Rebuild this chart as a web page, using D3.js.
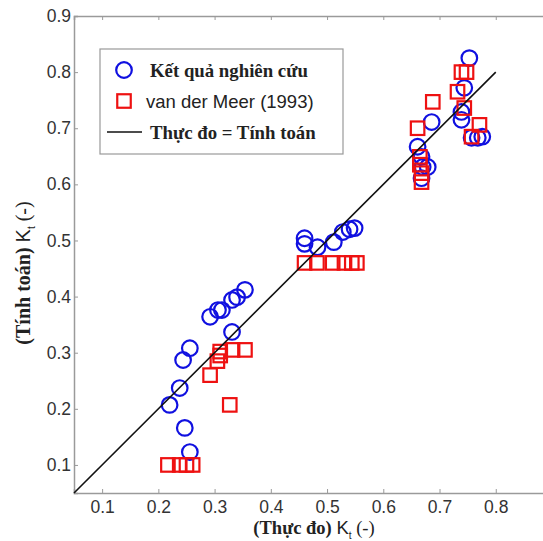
<!DOCTYPE html>
<html>
<head>
<meta charset="utf-8">
<script src="https://cdn.jsdelivr.net/npm/d3@7"></script>
<style>
  html, body { margin: 0; padding: 0; background: #fff; }
  svg { display: block; }
</style>
</head>
<body>
<svg id="chart" width="543" height="541"></svg>
<script>
// Measured vs. computed transmission coefficient Kt
const studyMeasured = [0.220, 0.238, 0.244, 0.256, 0.247, 0.256, 0.292, 0.306, 0.313, 0.331, 0.340, 0.354, 0.331,
  0.460, 0.460, 0.483, 0.512, 0.528, 0.540, 0.549,
  0.753, 0.744, 0.739, 0.739, 0.757, 0.768, 0.776, 0.686, 0.661, 0.668, 0.670, 0.679, 0.668];
const studyComputed = [0.207, 0.237, 0.287, 0.308, 0.166, 0.123, 0.364, 0.376, 0.376, 0.394, 0.399, 0.412, 0.337,
  0.504, 0.494, 0.488, 0.497, 0.515, 0.520, 0.522,
  0.825, 0.772, 0.729, 0.715, 0.683, 0.683, 0.685, 0.711, 0.667, 0.649, 0.631, 0.631, 0.611];

const vdmMeasured = [0.217, 0.238, 0.250, 0.261, 0.292, 0.305, 0.310, 0.310, 0.332, 0.354, 0.327,
  0.460, 0.482, 0.510, 0.531, 0.544, 0.553,
  0.748, 0.739, 0.688, 0.732, 0.661, 0.744, 0.771, 0.757, 0.665, 0.665, 0.668, 0.668];
const vdmComputed = [0.100, 0.100, 0.100, 0.100, 0.260, 0.285, 0.295, 0.302, 0.305, 0.305, 0.207,
  0.460, 0.460, 0.460, 0.460, 0.460, 0.460,
  0.800, 0.800, 0.747, 0.765, 0.700, 0.736, 0.706, 0.685, 0.649, 0.635, 0.620, 0.604];

const equalityLine = [0.05, 0.8];
const xTicks = [0.1, 0.2, 0.3, 0.4, 0.5, 0.6, 0.7, 0.8];
const yTicks = [0.1, 0.2, 0.3, 0.4, 0.5, 0.6, 0.7, 0.8, 0.9];
const legendLabels = ["Kết quả nghiên cứu", "van der Meer (1993)", "Thực đo = Tính toán"];

const svg = d3.select("#chart");
const plotLeft = 74, plotTop = 16, plotRight = 552, plotBottom = 493;

const x = d3.scaleLinear().domain([0.05, 0.9]).range([plotLeft, plotRight]);
const y = d3.scaleLinear().domain([0.05, 0.9]).range([plotBottom, plotTop]);

const axisColor = "#9a9a9a";
const labelColor = "#333";
const sans = "'Liberation Sans', Arial, sans-serif";
const serif = "'Liberation Serif', 'Times New Roman', serif";

// Axes (ticks pointing inward, mirrored on the top edge)
const gx = svg.append("g").attr("transform", `translate(0,${plotBottom})`)
  .call(d3.axisBottom(x).tickValues(xTicks).tickFormat(d3.format(".1f")).tickSize(-4).tickPadding(8));
const gxTop = svg.append("g").attr("transform", `translate(0,${plotTop})`)
  .call(d3.axisTop(x).tickValues(xTicks).tickFormat("").tickSize(-4));
const gy = svg.append("g").attr("transform", `translate(${plotLeft},0)`)
  .call(d3.axisLeft(y).tickValues(yTicks).tickFormat(d3.format(".1f")).tickSize(-4).tickPadding(3));

[gx, gxTop, gy].forEach(g => {
  g.select(".domain").attr("stroke", axisColor).attr("stroke-width", 1.5);
  g.selectAll(".tick line").attr("stroke", axisColor);
  g.selectAll(".tick text").attr("fill", labelColor)
    .style("font-family", sans).style("font-size", "17.5px");
});

// Study results (circles)
svg.append("g").selectAll("circle")
  .data(studyMeasured.map((m, i) => [m, studyComputed[i]]))
  .join("circle")
  .attr("cx", d => x(d[0])).attr("cy", d => y(d[1])).attr("r", 7.8)
  .attr("fill", "none").attr("stroke", "#1010e0").attr("stroke-width", 2.2);

// van der Meer (1993) (squares)
const sq = 13.5;
svg.append("g").selectAll("rect")
  .data(vdmMeasured.map((m, i) => [m, vdmComputed[i]]))
  .join("rect")
  .attr("x", d => x(d[0]) - sq / 2).attr("y", d => y(d[1]) - sq / 2)
  .attr("width", sq).attr("height", sq)
  .attr("fill", "none").attr("stroke", "#ee1111").attr("stroke-width", 2.2);

// 1:1 line
svg.append("line")
  .attr("x1", x(equalityLine[0])).attr("y1", y(equalityLine[0]))
  .attr("x2", x(equalityLine[1])).attr("y2", y(equalityLine[1]))
  .attr("stroke", "#111").attr("stroke-width", 1.6);

// Legend
const lg = svg.append("g");
lg.append("rect").attr("x", 100).attr("y", 49).attr("width", 243).attr("height", 105)
  .attr("fill", "#fff").attr("stroke", "#999").attr("stroke-width", 1.2);
lg.append("circle").attr("cx", 124).attr("cy", 70).attr("r", 7.8)
  .attr("fill", "none").attr("stroke", "#1010e0").attr("stroke-width", 2.2);
lg.append("rect").attr("x", 124 - sq / 2).attr("y", 101 - sq / 2).attr("width", sq).attr("height", sq)
  .attr("fill", "none").attr("stroke", "#ee1111").attr("stroke-width", 2.2);
lg.append("line").attr("x1", 107).attr("x2", 142).attr("y1", 132).attr("y2", 132)
  .attr("stroke", "#111").attr("stroke-width", 1.6);
lg.append("text").attr("x", 150).attr("y", 77).text(legendLabels[0])
  .style("font-family", serif).style("font-weight", "bold").style("font-size", "18.8px").attr("fill", "#222");
lg.append("text").attr("x", 146).attr("y", 108).text(legendLabels[1])
  .style("font-family", sans).style("font-size", "18.5px").attr("fill", "#222");
lg.append("text").attr("x", 150).attr("y", 139).text(legendLabels[2])
  .style("font-family", serif).style("font-weight", "bold").style("font-size", "18.8px").attr("fill", "#222");

// Axis titles
const xt = svg.append("text").attr("x", 314).attr("y", 534).attr("text-anchor", "middle")
  .attr("fill", "#222").style("font-size", "18.5px");
xt.append("tspan").text("(Thực đo) ").style("font-family", serif).style("font-weight", "bold");
xt.append("tspan").text("K").style("font-family", sans);
xt.append("tspan").text("t").style("font-family", sans).style("font-size", "10px").attr("dy", 5);
xt.append("tspan").text(" (-)").style("font-family", serif).attr("dy", -5);

const yt = svg.append("text").attr("transform", "translate(30,273) rotate(-90)").attr("text-anchor", "middle")
  .attr("fill", "#222").style("font-size", "20px");
yt.append("tspan").text("(Tính toán) ").style("font-family", serif).style("font-weight", "bold");
yt.append("tspan").text("K").style("font-family", sans);
yt.append("tspan").text("t").style("font-family", sans).style("font-size", "10px").attr("dy", 5);
yt.append("tspan").text(" (-)").style("font-family", serif).attr("dy", -5);
</script>
</body>
</html>
